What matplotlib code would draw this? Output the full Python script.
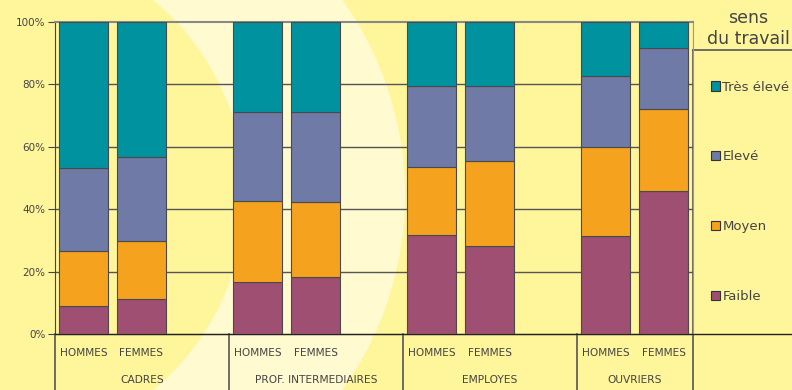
import matplotlib
matplotlib.use("Agg")
import matplotlib.pyplot as plt
from matplotlib.patches import Circle
import numpy as np

# données (%)
groupes = ["CADRES", "PROF. INTERMEDIAIRES", "EMPLOYES", "OUVRIERS"]
sexes = ["HOMMES", "FEMMES"]
niveaux = ["Faible", "Moyen", "Elevé", "Très élevé"]

faible = [9.1, 11.3, 16.8, 18.4, 31.7, 28.3, 31.4, 45.9]
moyen = [17.6, 18.6, 25.9, 24.0, 21.9, 27.2, 28.6, 26.3]
eleve = [26.6, 26.9, 28.6, 28.9, 26.0, 24.1, 22.8, 19.6]
tres_eleve = [46.7, 43.2, 28.7, 28.7, 20.4, 20.4, 17.2, 8.2]

couleurs = ["#9E4F72", "#F5A31E", "#6F7AA6", "#00929F"]
fond = "#FFF59B"
clair = "#FFFAD0"
gris = "#444444"

plt.rcParams['font.family'] = ['DejaVu Sans']

fig = plt.figure(figsize=(7.92, 3.90), dpi=100)
fig.patch.set_facecolor(fond)

# fond décoratif (coordonnées en pixels)
bg = fig.add_axes([0, 0, 1, 1], zorder=0)
bg.set_xlim(0, 792)
bg.set_ylim(390, 0)
bg.axis("off")
bg.add_patch(Circle((70, 195), 335, color=clair, lw=0))
bg.add_patch(Circle((-8, 195), 253, color=fond, lw=0))

ax = fig.add_axes([55 / 792, 56 / 390, 638 / 792, 312 / 390], zorder=1)
ax.set_facecolor("none")

pas = 174.0
larg = 49 / pas
decal = [28.5 / pas, 86.5 / pas]
x = np.array([g + decal[s] for g in range(len(groupes)) for s in range(len(sexes))])

bas = np.zeros(len(x))
for vals, c in zip([faible, moyen, eleve, tres_eleve], couleurs):
    ax.bar(x, vals, larg, bottom=bas, color=c, edgecolor="#4a4a4a", lw=0.8, zorder=3)
    bas += np.array(vals)

ax.set_xlim(0, 638 / pas)
ax.set_ylim(0, 100)
ax.set_yticks([0, 20, 40, 60, 80, 100])
ax.set_yticklabels([f"{v}%" for v in range(0, 101, 20)], fontsize=7.5, color=gris)
ax.tick_params(axis="y", length=5, color=gris, pad=2)
ax.set_xticks([])
for v in [20, 40, 60, 80]:
    ax.axhline(v, color="#555555", lw=1, zorder=1)
ax.spines["top"].set_color("#888888")
ax.spines["top"].set_linewidth(1.5)
ax.spines["right"].set_color("#999999")
ax.spines["left"].set_color(gris)
ax.spines["bottom"].set_color("#222222")

# axe des catégories
bg.plot([55, 792], [334, 334], color="#222222", lw=1)
for g in range(len(groupes) + 1):
    xs = 55 + min(g * pas, 638)
    bg.plot([xs, xs], [334, 390], color="#555555", lw=1.2)
bg.plot([693, 693], [50, 334], color="#555555", lw=1.2)
bg.plot([693, 792], [50, 50], color="#555555", lw=1.2)

tr = ax.get_xaxis_transform()
for i, xi in enumerate(x):
    ax.text(xi, -0.06, sexes[i % 2], transform=tr, ha="center", va="center",
            fontsize=7.6, color=gris, clip_on=False)
for g, nom in enumerate(groupes):
    xc = (g + min(g + 1, 638 / pas)) / 2
    ax.text(xc, -0.148, nom, transform=tr, ha="center", va="center",
            fontsize=7.7, color=gris, clip_on=False)

# légende
bg.text(748, 18, "sens", ha="center", va="center", fontsize=12.5, color=gris)
bg.text(748, 39, "du travail", ha="center", va="center", fontsize=12.5, color=gris)
poignees = [plt.Rectangle((0, 0), 1, 1, fc=c, ec="#333333", lw=0.8) for c in couleurs]
fig.legend(poignees[::-1], niveaux[::-1], loc="upper left",
           bbox_to_anchor=(704 / 792, 1 - 74 / 390), frameon=False,
           fontsize=9.5, labelcolor=gris, handlelength=0.7, handleheight=0.7,
           handletextpad=0.2, labelspacing=4.3, borderpad=0)

fig.savefig("out.png", dpi=100, facecolor=fond)
